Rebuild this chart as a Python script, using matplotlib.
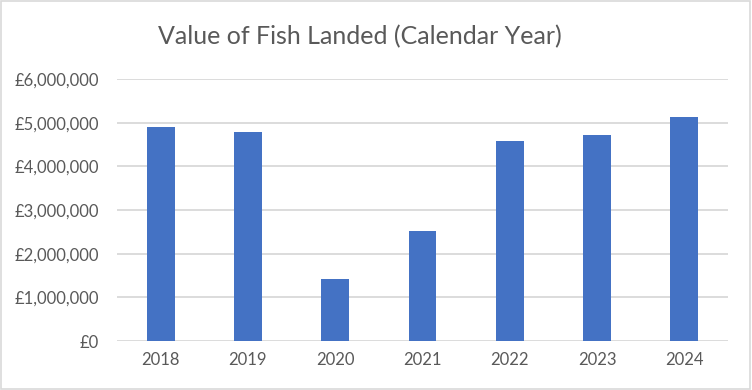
import matplotlib.pyplot as plt
from matplotlib.ticker import FuncFormatter
from matplotlib.patches import Rectangle

years = ["2018", "2019", "2020", "2021", "2022", "2023", "2024"]
values = [4890000, 4780000, 1410000, 2530000, 4590000, 4710000, 5120000]
yticks = [0, 1000000, 2000000, 3000000, 4000000, 5000000, 6000000]

plt.rcParams['font.family'] = ['Lato', 'DejaVu Sans']
text_color = "#595959"

fig = plt.figure(figsize=(7.52, 3.90), dpi=100)
ax = fig.add_axes([117 / 752, 1 - 341 / 390, 611 / 752, 262 / 390])

x = range(len(years))
ax.bar(x, values, width=0.32, color="#4472C4", zorder=3)

ax.set_xlim(-0.5, len(years) - 0.5)
ax.set_ylim(0, 6000000)
ax.set_yticks(yticks)
ax.yaxis.set_major_formatter(FuncFormatter(lambda v, p: f"£{v:,.0f}"))
ax.set_xticks(list(x))
ax.set_xticklabels(years)

ax.grid(axis="y", color="#d9d9d9", linewidth=1.3, zorder=0)
for s in ax.spines.values():
    s.set_visible(False)
ax.tick_params(axis="both", length=0, labelsize=12, colors=text_color)
ax.tick_params(axis="y", pad=13)
ax.tick_params(axis="x", pad=8)

fig.text(0.479, 1 - 37 / 390, "Value of Fish Landed (Calendar Year)",
         ha="center", va="center", fontsize=18, color=text_color)

fig.patches.append(Rectangle((0.001, 0.002), 0.997, 0.996, transform=fig.transFigure,
                             fill=False, edgecolor="#d9d9d9", linewidth=1.2))

fig.savefig("out.png", dpi=100)
